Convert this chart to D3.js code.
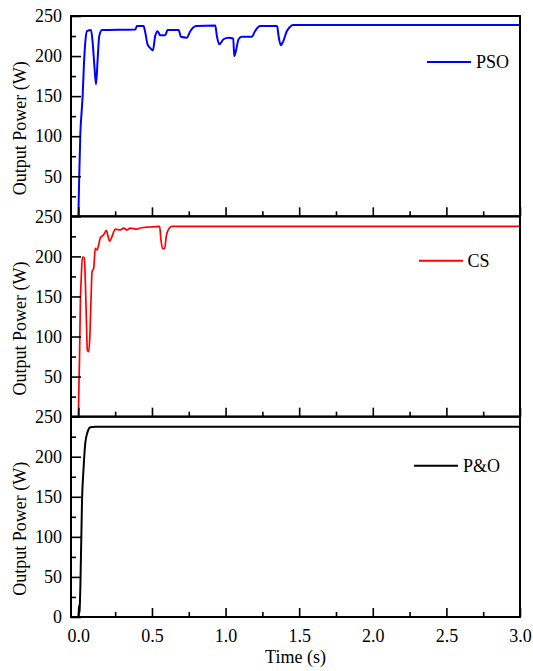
<!DOCTYPE html>
<html>
<head>
<meta charset="utf-8">
<script src="https://cdn.jsdelivr.net/npm/d3@7"></script>
<style>
  body { margin: 0; background: #fff; }
  svg { display: block; }
  text { font-family: "Liberation Serif", "Times New Roman", serif; fill: #000; }
</style>
</head>
<body>
<svg id="chart" width="533" height="671"></svg>
<script>
// ---- data: [time (s), output power (W)] ----
const psoSeries = [
  [0, 0], [0.006, 50], [0.0136, 104], [0.022, 130], [0.029, 150], [0.038, 190],
  [0.047, 217], [0.059, 231], [0.086, 232.5], [0.097, 217], [0.109, 187.5],
  [0.12, 164.6], [0.131, 196], [0.142, 225], [0.161, 232.5], [0.387, 233.3],
  [0.398, 237.5], [0.443, 237.5], [0.455, 229], [0.47, 214.6], [0.488, 210],
  [0.506, 207], [0.522, 225], [0.538, 231], [0.556, 226], [0.59, 226],
  [0.606, 232.5], [0.681, 232.5], [0.697, 224], [0.737, 223], [0.76, 231],
  [0.8, 237.5], [0.93, 238], [0.941, 225], [0.957, 214.6], [0.986, 221],
  [1.02, 223], [1.052, 222], [1.059, 200], [1.072, 208], [1.088, 221],
  [1.11, 224], [1.178, 224], [1.2, 231], [1.235, 237.5], [1.35, 237.5],
  [1.36, 225], [1.375, 213.75], [1.393, 219], [1.416, 231], [1.438, 236.7],
  [1.46, 238.75], [3.0, 238.75]
];
const csSeries = [
  [0, 0], [0.004, 40], [0.008, 75], [0.0136, 141.7], [0.02, 175], [0.027, 199],
  [0.041, 198], [0.047, 171], [0.054, 125], [0.061, 83], [0.07, 81], [0.077, 96],
  [0.086, 146], [0.093, 181], [0.104, 185], [0.115, 210], [0.127, 208],
  [0.138, 214.6], [0.149, 223], [0.172, 227], [0.19, 232.5], [0.199, 227],
  [0.213, 219], [0.229, 225], [0.251, 234], [0.285, 233], [0.308, 235.4],
  [0.33, 233], [0.353, 235.4], [0.398, 234], [0.42, 235.4], [0.488, 236.7],
  [0.552, 237.5], [0.561, 221], [0.572, 209.6], [0.586, 209.6], [0.597, 225],
  [0.613, 234], [0.636, 237.5], [3.0, 237.5]
];
const poSeries = [
  [0, 0], [0.003, 8], [0.005, 14], [0.007, 5], [0.009, 10], [0.0136, 37.5],
  [0.025, 146], [0.036, 187.5], [0.047, 217], [0.063, 231], [0.081, 236.7],
  [0.115, 237.5], [3.0, 237.5]
];

const seriesNames = ["PSO", "CS", "P&O"];
const timeDomain = [-0.05, 3.0];
const powerDomain = [0, 250];
const xMajorTicks = [0, 0.5, 1.0, 1.5, 2.0, 2.5, 3.0];
const xMinorTicks = [0.25, 0.75, 1.25, 1.75, 2.25, 2.75];
const yMajorTicks = [0, 50, 100, 150, 200, 250];
const yMinorTicks = [25, 75, 125, 175, 225];
const xTitle = "Time (s)";
const yTitle = "Output Power (W)";

// ---- layout ----
const plotLeft = 71, plotRight = 520, plotTop = 16, panelH = 200.33;
const svg = d3.select("#chart");

const x = d3.scaleLinear().domain(timeDomain).range([plotLeft, plotRight]);

const panels = [
  { data: psoSeries, name: seriesNames[0], color: "#0000ff", width: 2,
    legend: { x1: 427, x2: 471, y: 62, tx: 476, ty: 67.5 } },
  { data: csSeries, name: seriesNames[1], color: "#ff0000", width: 1.7,
    legend: { x1: 419, x2: 463, y: 260.7, tx: 467.5, ty: 266.5 } },
  { data: poSeries, name: seriesNames[2], color: "#000000", width: 2,
    legend: { x1: 414, x2: 458, y: 465.7, tx: 463, ty: 472 } }
];

panels.forEach((p, i) => {
  const y0 = plotTop + i * panelH;
  const y1 = y0 + panelH;
  const isLast = i === panels.length - 1;
  const y = d3.scaleLinear().domain(powerDomain).range([y1, y0]);
  const g = svg.append("g");

  // clip region for the curve
  const clipId = "clip" + i;
  svg.append("clipPath").attr("id", clipId)
    .append("rect").attr("x", plotLeft).attr("y", y0).attr("width", plotRight - plotLeft).attr("height", panelH);

  // curve
  const line = d3.line()
    .x(d => x(d[0]))
    .y(d => y(d[1]))
    .curve(d3.curveMonotoneX);
  g.append("path")
    .datum(p.data)
    .attr("clip-path", `url(#${clipId})`)
    .attr("fill", "none")
    .attr("stroke", p.color)
    .attr("stroke-width", p.width)
    .attr("stroke-linejoin", "round")
    .attr("d", line);

  // y axis: major ticks with labels, minor ticks without
  const yLabels = isLast ? yMajorTicks : yMajorTicks.filter(v => v > 0);
  const yAx = g.append("g").attr("transform", `translate(${plotLeft},0)`)
    .call(d3.axisLeft(y).tickValues(yLabels).tickSizeInner(-10).tickSizeOuter(0).tickPadding(9));
  const yMin = g.append("g").attr("transform", `translate(${plotLeft},0)`)
    .call(d3.axisLeft(y).tickValues(yMinorTicks).tickSizeInner(-5).tickSizeOuter(0).tickFormat(""));

  // x axis along the bottom of the panel, ticks pointing inward
  const xAx = g.append("g").attr("transform", `translate(0,${y1})`)
    .call(d3.axisBottom(x).tickValues(xMajorTicks).tickSizeInner(-9).tickSizeOuter(0).tickPadding(12)
      .tickFormat(isLast ? d3.format(".1f") : ""));
  const xMin = g.append("g").attr("transform", `translate(0,${y1})`)
    .call(d3.axisBottom(x).tickValues(xMinorTicks).tickSizeInner(-5).tickSizeOuter(0).tickFormat(""));

  [yAx, yMin, xAx, xMin].forEach(a => {
    a.select(".domain").remove();
    a.selectAll(".tick line").attr("stroke", "#000").attr("stroke-width", 1.6);
    a.selectAll(".tick text").attr("font-size", 18).attr("font-family", "Liberation Serif, Times New Roman, serif").attr("fill", "#000");
  });

  // frame
  g.append("rect")
    .attr("x", plotLeft).attr("y", y0)
    .attr("width", plotRight - plotLeft).attr("height", panelH)
    .attr("fill", "none").attr("stroke", "#000").attr("stroke-width", 2);

  // y title
  g.append("text")
    .attr("transform", `translate(26,${(y0 + y1) / 2 + 12}) rotate(-90)`)
    .attr("text-anchor", "middle")
    .attr("font-size", 18)
    .text(yTitle);

  // legend
  g.append("line")
    .attr("x1", p.legend.x1).attr("x2", p.legend.x2)
    .attr("y1", p.legend.y).attr("y2", p.legend.y)
    .attr("stroke", p.color).attr("stroke-width", 2);
  g.append("text")
    .attr("x", p.legend.tx).attr("y", p.legend.ty)
    .attr("font-size", 18)
    .text(p.name);
});

// x title
svg.append("text")
  .attr("x", (plotLeft + plotRight) / 2)
  .attr("y", 663)
  .attr("text-anchor", "middle")
  .attr("font-size", 18)
  .text(xTitle);
</script>
</body>
</html>
